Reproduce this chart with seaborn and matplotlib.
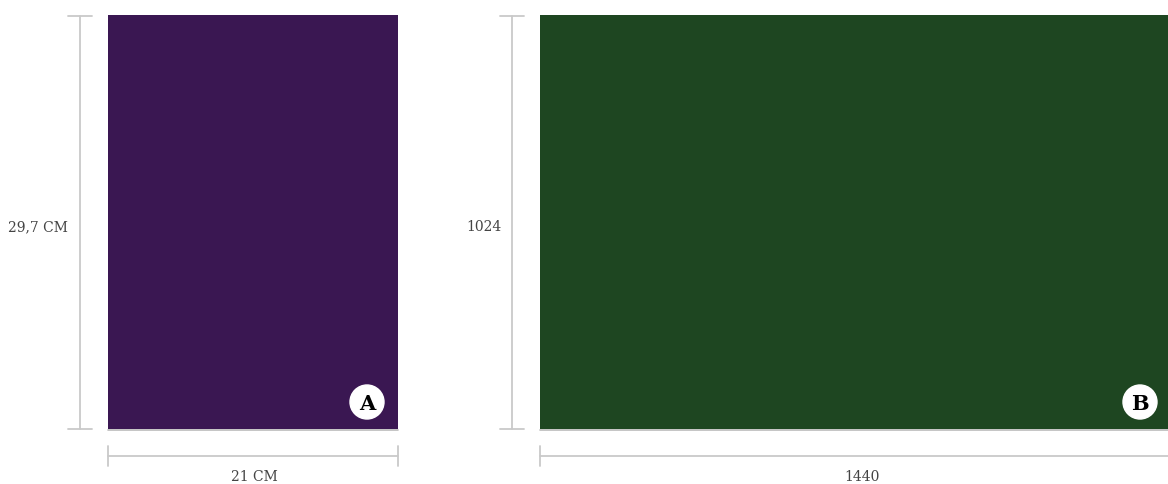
import matplotlib
matplotlib.use("Agg")
import matplotlib.pyplot as plt
import seaborn as sns

sns.set_theme(style="white")
plt.rcParams['font.family'] = ['DejaVu Serif', 'DejaVu Sans']

# Data
panels = ["A", "B"]
width_labels = ["21 CM", "1440"]
height_labels = ["29,7 CM", "1024"]
colors = ["#3a1752", "#1e4621"]

# Layout (pixel coordinates)
rect_left = [108, 540]
rect_right = [398, 1168]
rect_top, rect_bottom = 16, 430
vline_x = [80, 512]
hlabel_x = [38, 484]
wlabel_x = [254, 862]
right_tick = [True, False]

W, H = 1168, 485
fig = plt.figure(figsize=(W / 100, H / 100), dpi=100)
ax = fig.add_axes([0, 0, 1, 1])
ax.set_xlim(0, W)
ax.set_ylim(H, 0)
ax.axis("off")

line_c = "#c9c9c9"
text_c = "#444444"
for i in range(2):
    l, r = rect_left[i], rect_right[i]
    ax.bar(l, rect_bottom - rect_top, width=r - l, bottom=rect_top,
           align="edge", color=colors[i], linewidth=0)
    ax.plot([l, r], [rect_bottom + 1, rect_bottom + 1], color="#bbbbbb", lw=1.2)
    # vertical dimension line
    vx = vline_x[i]
    ax.plot([vx, vx], [rect_top + 1, rect_bottom], color=line_c, lw=1.3)
    ax.plot([vx - 12, vx + 12], [rect_top + 1, rect_top + 1], color=line_c, lw=1.3)
    ax.plot([vx - 12, vx + 12], [rect_bottom, rect_bottom], color=line_c, lw=1.3)
    # horizontal dimension line
    hy = 457
    ax.plot([l, r], [hy, hy], color=line_c, lw=1.3)
    ax.plot([l, l], [447, 467], color=line_c, lw=1.3)
    if right_tick[i]:
        ax.plot([r, r], [447, 467], color=line_c, lw=1.3)
    ax.text(wlabel_x[i], 477, width_labels[i], ha="center", va="center",
            fontsize=10, color=text_c)
    ax.text(hlabel_x[i], (rect_top + rect_bottom) / 2 + 4, height_labels[i],
            ha="center", va="center", fontsize=10, color=text_c)
    # badge
    cx = r - 31 if right_tick[i] else r - 28
    cy = 403
    circ = plt.Circle((cx, cy), 17, color="white", zorder=3)
    ax.add_patch(circ)
    ax.text(cx, cy + 1, panels[i], ha="center", va="center", fontsize=15,
            fontweight="bold", color="black", zorder=4)

fig.savefig("out.png", dpi=100)
